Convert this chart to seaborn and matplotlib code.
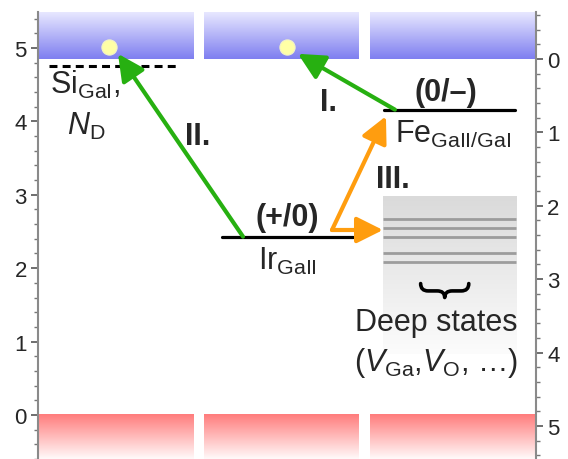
import numpy as np
import pandas as pd
import matplotlib
matplotlib.use("Agg")
import matplotlib.pyplot as plt
from matplotlib.patches import FancyArrowPatch, PathPatch
from matplotlib.path import Path
import seaborn as sns

# Energies in eV, measured from the valence band maximum
band_gap = 4.85
e_min, e_max = -0.60, 5.49
electron_energy = [5.01, 5.01]
si_donor_energy = 4.75
ir_level_energy = 2.43
fe_level_energy = 4.16
deep_state_energies = [2.67, 2.55, 2.43, 2.21, 2.08]
deep_box_energy = [0.83, 2.98]
left_ticks = [0, 1, 2, 3, 4, 5]
right_ticks = [0, 1, 2, 3, 4, 5]
# transition arrows: (start energy, end energy)
transition_I = (fe_level_energy, 4.92)
transition_II = (ir_level_energy, 4.92)
transition_III_up = (2.52, 4.07)
transition_III_side = (2.52, 2.52)

sns.set_style("ticks")
plt.rcParams["font.family"] = ["Liberation Sans", "DejaVu Sans"]
plt.rcParams["mathtext.fontset"] = "custom"
plt.rcParams["mathtext.rm"] = "Liberation Sans"
plt.rcParams["mathtext.it"] = "Liberation Sans:italic"
plt.rcParams["mathtext.bf"] = "Liberation Sans:bold"

fig = plt.figure(figsize=(5.68, 4.60), dpi=100)
ax = fig.add_axes([38 / 568, 0.0, 498 / 568, 1 - 13 / 460])
ax.set_xlim(0, 3)
ax.set_ylim(e_min, e_max)

# three panel columns separated by thin gaps
columns = [(0.0, 0.934), (1.0, 1.928), (2.0, 3.0)]


def vertical_gradient(c_bottom, c_top, n=256):
    c_bottom = np.array(c_bottom) / 255.0
    c_top = np.array(c_top) / 255.0
    t = np.linspace(0, 1, n)[:, None]
    rgb = c_bottom[None, :] * (1 - t) + c_top[None, :] * t
    return rgb[:, None, :]


cb_img = vertical_gradient((126, 126, 240), (232, 232, 255))
vb_img = vertical_gradient((255, 250, 250), (255, 124, 124))
for x0, x1 in columns:
    ax.imshow(cb_img, extent=[x0, x1, band_gap, e_max], origin="lower",
              aspect="auto", interpolation="bilinear", zorder=1)
    ax.imshow(vb_img, extent=[x0, x1, e_min, 0.0], origin="lower",
              aspect="auto", interpolation="bilinear", zorder=1)

# deep-state continuum
deep_img = vertical_gradient((252, 252, 252), (218, 218, 218))
ax.imshow(deep_img, extent=[2.078, 2.88, deep_box_energy[0], deep_box_energy[1]],
          origin="lower", aspect="auto", interpolation="bilinear", zorder=1)
ax.hlines(deep_state_energies, 2.078, 2.88, color="#9c9c9c", lw=2.0, zorder=2)

# defect levels
levels = pd.DataFrame({
    "x": [1.108, 1.898, 2.084, 2.873],
    "E": [ir_level_energy, ir_level_energy, fe_level_energy, fe_level_energy],
    "level": ["Ir", "Ir", "Fe", "Fe"],
})
sns.lineplot(data=levels, x="x", y="E", units="level", estimator=None,
             color="black", lw=2.3, ax=ax, zorder=4)
ax.hlines(si_donor_energy, 0.066, 0.855, color="black", lw=2.2,
          linestyles=(0, (2.6, 1.7)), zorder=4)

# free electrons in the conduction band
electrons = pd.DataFrame({"x": [0.43, 1.5], "E": electron_energy})
sns.scatterplot(data=electrons, x="x", y="E", color="#ffffa6", edgecolor="#f2f2c8",
                linewidth=0.8, s=120, ax=ax, zorder=6)


def arrow(x0, x1, energies, color):
    a = FancyArrowPatch((x0, energies[0]), (x1, energies[1]),
                        arrowstyle="-|>,head_length=1.0,head_width=0.5",
                        mutation_scale=16, color=color, lw=3.0,
                        shrinkA=0, shrinkB=0, zorder=5)
    ax.add_patch(a)


green = "#27b011"
orange = "#ff9d0f"
arrow(1.235, 0.482, transition_II, green)
arrow(2.15, 1.566, transition_I, green)
arrow(1.771, 2.096, transition_III_up, orange)
arrow(1.771, 2.078, transition_III_side, orange)

# downward curly brace over the deep-state label
xl, xc, xr = 2.305, 2.45, 2.595
y_top, y_mid, y_tip = 1.79, 1.69, 1.60
dq = 0.045
brace = Path(
    [(xl, y_top), (xl, y_mid), (xl + dq, y_mid), (xc - dq, y_mid),
     (xc, y_mid), (xc, y_tip), (xc, y_mid), (xc + dq, y_mid),
     (xr - dq, y_mid), (xr, y_mid), (xr, y_top)],
    [Path.MOVETO, Path.CURVE3, Path.CURVE3, Path.LINETO,
     Path.CURVE3, Path.CURVE3, Path.CURVE3, Path.CURVE3,
     Path.LINETO, Path.CURVE3, Path.CURVE3],
)
ax.add_patch(PathPatch(brace, fill=False, lw=2.6, edgecolor="black",
                       capstyle="round", joinstyle="round", zorder=4))

fs = 22
ax.text(0.072, 4.51, r"Si$_{\mathrm{GaI}}$,", fontsize=fs, ha="left", va="center", zorder=7)
ax.text(0.29, 3.94, r"$N_{\mathrm{D}}$", fontsize=fs, ha="center", va="center", zorder=7)
ax.text(0.96, 3.80, "II.", fontsize=fs, fontweight="bold", ha="center", va="center")
ax.text(1.50, 2.70, "(+/0)", fontsize=fs, fontweight="bold", ha="center", va="center")
ax.text(1.50, 2.10, r"Ir$_{\mathrm{GaII}}$", fontsize=fs, ha="center", va="center")
ax.text(1.75, 4.26, "I.", fontsize=fs, fontweight="bold", ha="center", va="center")
ax.text(2.46, 4.40, "(0/\u2013)", fontsize=fs, fontweight="bold", ha="center", va="center")
ax.text(2.50, 3.83, r"Fe$_{\mathrm{GaII/GaI}}$", fontsize=fs, ha="center", va="center")
ax.text(2.14, 3.22, "III.", fontsize=fs, fontweight="bold", ha="center", va="center")
ax.text(2.40, 1.27, "Deep states", fontsize=fs, ha="center", va="center")
ax.text(2.40, 0.72, "($V_{\\mathrm{Ga}}$,$V_{\\mathrm{O}}$, \u2026)", fontsize=fs,
        ha="center", va="center")

# axes styling
spine_col = "#8a8a8a"
for s in ["top", "bottom"]:
    ax.spines[s].set_visible(False)
ax.spines["left"].set_color(spine_col)
ax.spines["left"].set_linewidth(1.5)
ax.spines["right"].set_visible(False)
ax.set_xticks([])
ax.set_xlabel("")
ax.set_ylabel("")
ax.set_yticks(left_ticks)
ax.set_yticks(np.arange(-0.6, 5.5, 0.2), minor=True)
ax.tick_params(axis="y", which="major", length=5, width=1.2, color="#555555",
               labelsize=16, pad=3)
ax.tick_params(axis="y", which="minor", length=3, width=1.0, color="#777777")

ax2 = ax.twinx()
ax2.set_ylim(band_gap - e_min, band_gap - e_max)
ax2.set_yticks(right_ticks)
ax2.set_yticks(np.arange(-0.6, 5.5, 0.2), minor=True)
for s in ["top", "bottom", "left"]:
    ax2.spines[s].set_visible(False)
ax2.spines["right"].set_color(spine_col)
ax2.spines["right"].set_linewidth(1.5)
ax2.tick_params(axis="y", which="major", length=5, width=1.2, color="#555555",
                labelsize=16, pad=3)
ax2.tick_params(axis="y", which="minor", length=3, width=1.0, color="#777777")

fig.savefig("out.png", dpi=100)
